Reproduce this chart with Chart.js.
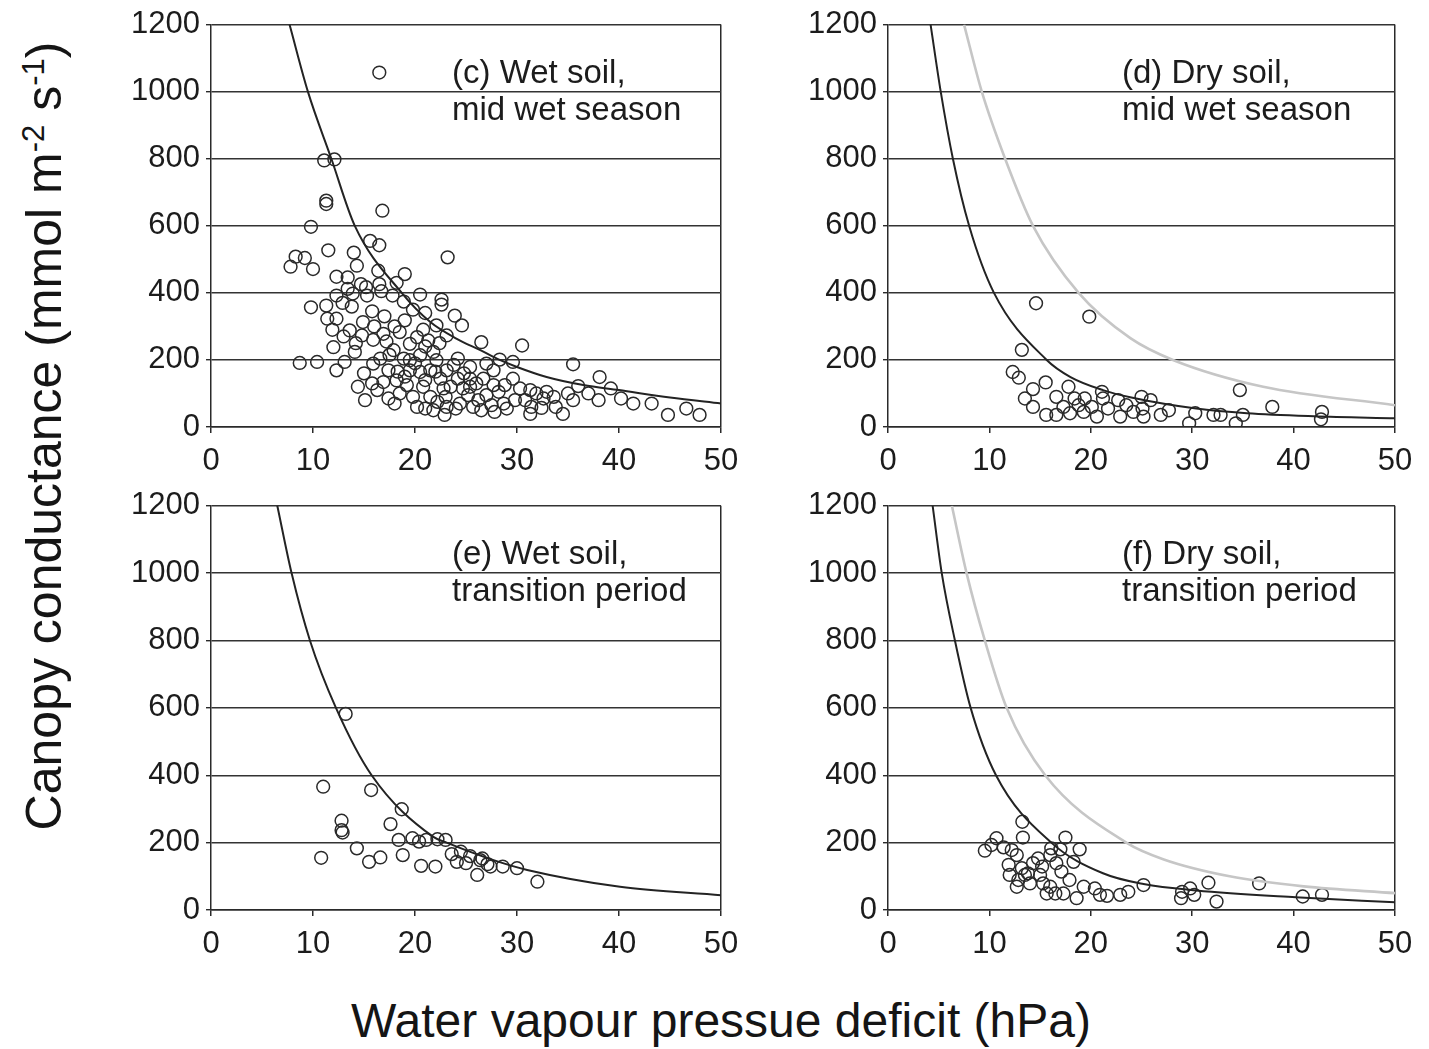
<!DOCTYPE html>
<html>
<head>
<meta charset="utf-8">
<script src="https://cdn.jsdelivr.net/npm/chart.js@4.4.1/dist/chart.umd.min.js"></script>
<style>
  html, body { margin: 0; padding: 0; background: #fff; }
  body { width: 1429px; height: 1049px; position: relative; overflow: hidden;
         font-family: "Liberation Sans", Arial, Helvetica, sans-serif; color: #151515; }
  canvas.panel { position: absolute; }
  #ytitle { position: absolute; left: 45px; top: 436px; white-space: nowrap;
            font-size: 50px; line-height: 1.15;
            transform: translate(-50%, -50%) rotate(-90deg); }
  #ytitle sup { font-size: 0.62em; vertical-align: 0.55em; line-height: 0; }
  #xtitle { position: absolute; left: 721px; top: 997px; white-space: nowrap;
            font-size: 48px; line-height: 1; transform: translateX(-50%); }
</style>
</head>
<body>
<canvas id="pc" class="panel" width="670" height="490" style="left:90px;top:0px"></canvas>
<canvas id="pd" class="panel" width="660" height="490" style="left:770px;top:0px"></canvas>
<canvas id="pe" class="panel" width="670" height="493" style="left:90px;top:480px"></canvas>
<canvas id="pf" class="panel" width="660" height="493" style="left:770px;top:480px"></canvas>
<div id="ytitle">Canopy conductance (mmol m<sup>-2</sup> s<sup>-1</sup>)</div>
<div id="xtitle">Water vapour pressue deficit (hPa)</div>

<script>
// Axis ticks shared by all four panels
const vpdTicks = [0, 10, 20, 30, 40, 50];             // hPa
const gcTicks  = [0, 200, 400, 600, 800, 1000, 1200]; // mmol m-2 s-1

// Observations: [vapour pressure deficit (hPa), canopy conductance]
const wetMidPoints = [
  [16.5,1057],[11.1,795],[12.1,798],[11.3,675],[11.3,665],[16.8,645],[9.8,597],[15.6,555],
  [16.5,542],[14.0,520],[11.5,527],[23.2,506],[8.3,508],[9.2,504],[7.8,478],[10.0,471],
  [14.3,481],[16.4,466],[19.0,456],[12.3,448],[13.4,446],[14.7,426],[15.2,417],[16.5,426],
  [16.7,405],[12.3,392],[13.4,412],[15.3,392],[17.8,392],[9.8,357],[11.3,362],[11.4,323],
  [8.7,191],[10.4,194],[18.9,374],[22.6,380],
  [13.8,359],[12.3,323],[14.9,313],[13.6,288],[14.8,273],[15.9,260],[12.0,238],[14.1,224],
  [16.9,278],[18.5,283],[19.0,318],[17.9,229],[19.5,248],[20.2,268],[21.3,258],[22.1,303],
  [22.6,365],[23.9,332],[24.6,303],[23.1,273],[21.8,224],[20.5,214],[18.9,204],[16.6,204],
  [15.9,189],[13.1,194],[12.3,169],[19.5,199],[24.2,204],[23.1,169],[26.5,253],[28.3,201],
  [29.6,194],[30.5,243],[35.5,187],[36.0,122],[35.5,80],[34.5,39],[27.0,189],[27.7,169],
  [25.4,179],[26.7,144],[28.8,125],[29.6,144],[31.3,110],[31.9,100],[32.9,105],[33.6,90],
  [32.6,85],[31.4,60],[31.3,39],[32.4,57],[29.8,80],[28.7,70],[27.5,65],[26.2,80],
  [25.7,60],[24.4,70],[23.1,60],[22.9,36],[21.8,50],[21.0,55],[21.5,90],[19.8,90],
  [18.5,100],[17.4,85],[15.1,80],[14.4,120],[15.8,130],[16.9,134],[17.4,169],[18.2,139],
  [19.2,125],[20.8,120],[22.5,144],[24.2,144],[24.7,115],[23.5,120],[23.0,90],[25.4,120],
  [21.5,169],[19.5,169],[20.5,164],[22.1,199],[25.4,144],[27.7,125],
  [38.1,149],[39.2,115],[38.0,80],[40.2,85],[41.4,70],[43.2,70],[44.8,36],[46.6,55],[47.9,36],
  [17.2,255],[18.0,300],[20.8,290],[21.0,240],[22.4,250],[17.5,215],[18.3,165],[19.0,150],
  [20.0,190],[21.0,140],[22.0,165],[23.8,185],[24.8,160],[26.0,130],[25.2,95],[27.0,95],
  [28.2,105],[30.3,115],[30.8,80],[27.8,45],[24.0,55],[22.2,75],[20.2,60],[18.0,70],
  [16.3,110],[15.0,160],[14.2,250],[13.0,270],[16.0,300],[17.0,330],[19.8,350],[21.0,340],
  [15.8,345],[18.2,430],[20.5,395],[13.9,398],[12.9,370],[11.9,290],[22.8,115],[26.5,50],
  [29.0,55],[33.8,60],[35.0,100],[37.0,100]
];
const dryMidPoints = [
  [14.6,369],[19.85,329],[13.2,230],[12.3,164],[12.9,147],[14.3,113],[15.55,133],[13.5,85],
  [14.3,60],[15.6,36],[16.6,90],[17.8,120],[17.3,60],[18.4,85],[16.6,36],[17.95,41],
  [18.8,65],[19.4,85],[20.1,60],[21.1,105],[21.2,85],[20.6,31],[21.7,55],[22.7,80],
  [22.9,31],[23.5,65],[24.2,45],[25.0,90],[25.2,31],[19.3,45],
  [25.9,80],[25.1,55],[26.9,36],[27.7,50],[29.7,11],[30.3,41],[32.1,36],[32.8,36],
  [34.3,11],[35.0,36],[34.7,110],[37.9,60],[42.8,45],[42.7,23]
];
const wetTransPoints = [
  [13.2,582],[11.0,366],[15.7,356],[18.7,299],[12.8,265],[12.8,237],[12.9,230],[17.6,255],
  [10.8,155],[14.3,183],[15.5,143],[16.6,156],[18.4,208],[18.8,163],[19.75,213],[20.4,203],
  [21.1,208],[20.6,131],[22.0,129],[22.2,210],[23.0,208],[24.1,143],[24.5,173],[25.4,160],
  [26.1,104],[26.6,153],[27.4,129],[28.6,129],[30.0,124],[32.0,84],[23.6,166],[25.0,139],
  [26.4,148],[27.1,136]
];
const dryTransPoints = [
  [13.25,262],[13.3,215],[10.7,213],[17.5,215],[9.55,176],[10.2,193],[11.4,186],[12.2,178],
  [12.7,163],[11.9,134],[12.0,104],[12.85,89],[12.7,69],[13.2,124],[13.8,109],[14.3,139],
  [14.8,153],[15.2,129],[15.0,104],[15.3,79],[16.0,163],[16.1,183],[16.6,139],[17.1,114],
  [17.0,180],[16.0,69],[15.65,49],[16.5,49],[17.3,49],[17.9,89],[18.3,143],[18.9,180],
  [18.6,35],[19.3,69],[20.4,64],[20.9,45],[21.6,42],[22.9,45],[23.7,54],[25.2,74],
  [14.0,79],[13.5,104],
  [28.9,35],[29.0,54],[29.8,64],[30.2,45],[31.6,81],[32.4,25],[36.6,79],[40.9,40],[42.8,45]
];

// Fitted response curves (black) and wet-soil reference curves (grey)
const wetMidFit = [[7.7,1200],[9.5,1000],[11.8,800],[14.1,600],[18.7,400],[21.5,313],[24.1,263],
  [26.4,229],[28.3,200],[30.0,179],[32.9,149],[36.5,125],[40.0,110],[45.0,88],[50.0,70]];
const dryMidFit = [[4.2,1200],[5.2,1000],[6.4,800],[8.0,600],[10.45,400],[15.65,200],[18.0,149],
  [21.2,110],[24.0,88],[30.4,55],[35.4,41],[42.0,32],[50.0,26]];
const dryMidRef = [[7.5,1200],[9.25,1000],[11.55,800],[14.3,600],[18.8,400],[23.9,265],
  [28.1,200],[37.0,120],[50.0,65]];
const wetTransFit = [[6.5,1200],[7.9,1000],[9.7,800],[12.25,600],[15.75,400],[21.8,217],[23.1,200],
  [27.7,148],[31.0,119],[40.1,69],[50.0,44]];
const dryTransFit = [[4.4,1200],[5.3,1000],[6.6,800],[8.15,600],[10.65,400],[16.1,200],[21.2,109],
  [25.2,77],[30.4,58],[40.2,38],[50.0,23]];
const dryTransRef = [[6.3,1200],[7.75,1000],[9.55,800],[11.7,600],[15.5,400],[23.5,200],[27.2,150],
  [33.7,100],[41.0,70],[50.0,50]];

const FONT = '"Liberation Sans", Arial, Helvetica, sans-serif';
const INK = '#1c1c1c';

const toXY = arr => arr.map(([x, y]) => ({ x, y }));

// Writes the two-line panel caption inside the plot area
const panelNote = {
  id: 'panelNote',
  afterDatasetsDraw(chart, args, opts) {
    if (!opts || !opts.lines) return;
    const { ctx, chartArea } = chart;
    ctx.save();
    ctx.font = '33px ' + FONT;
    ctx.fillStyle = INK;
    ctx.textBaseline = 'alphabetic';
    ctx.textAlign = 'left';
    opts.lines.forEach((t, i) => ctx.fillText(t, chartArea.left + opts.dx, chartArea.top + opts.dy[i]));
    ctx.restore();
  }
};

function panel(id, cfg) {
  const datasets = [];
  if (cfg.ref) datasets.push({
    type: 'line', data: toXY(cfg.ref), borderColor: '#c6c6c6', borderWidth: 2.6,
    pointRadius: 0, fill: false, cubicInterpolationMode: 'monotone'
  });
  datasets.push({
    type: 'line', data: toXY(cfg.fit), borderColor: '#232323', borderWidth: 2,
    pointRadius: 0, fill: false, cubicInterpolationMode: 'monotone'
  });
  datasets.push({
    type: 'scatter', data: toXY(cfg.points), pointRadius: 6.4, pointBorderWidth: 1.5,
    pointBorderColor: '#2a2a2a', pointBackgroundColor: 'rgba(255,255,255,0)', showLine: false
  });

  return new Chart(document.getElementById(id), {
    type: 'scatter',
    data: { datasets },
    plugins: [panelNote],
    options: {
      responsive: false,
      animation: false,
      devicePixelRatio: 1,
      events: [],
      layout: { padding: { top: cfg.padTop, right: cfg.padRight, left: 0, bottom: 0 } },
      plugins: {
        legend: { display: false },
        tooltip: { enabled: false },
        panelNote: { lines: cfg.note, dx: cfg.noteDx, dy: [58, 95] }
      },
      scales: {
        x: {
          type: 'linear', min: 0, max: 50,
          afterBuildTicks: s => { s.ticks = vpdTicks.map(v => ({ value: v })); },
          afterFit: s => { s.height = cfg.xHeight; },
          ticks: { font: { family: FONT, size: 31 }, color: INK, padding: 10, maxRotation: 0,
                   callback: v => String(v) },
          grid: {
            drawOnChartArea: true, drawTicks: true, tickLength: 6, lineWidth: 1.5,
            color: c => (c.tick && c.tick.value === 50) ? '#2a2a2a' : 'rgba(0,0,0,0)',
            tickColor: '#2a2a2a'
          },
          border: { display: true, color: '#2a2a2a', width: 1.5 }
        },
        y: {
          type: 'linear', min: 0, max: 1200,
          afterBuildTicks: s => { s.ticks = gcTicks.map(v => ({ value: v })); },
          afterFit: s => { s.width = cfg.yWidth; },
          ticks: { font: { family: FONT, size: 31 }, color: INK, padding: 6,
                   callback: v => String(v) },
          grid: { drawTicks: true, tickLength: 5, lineWidth: 1.4, color: '#333', tickColor: '#2a2a2a' },
          border: { display: true, color: '#2a2a2a', width: 1.5 }
        }
      }
    }
  });
}

panel('pc', { points: wetMidPoints, fit: wetMidFit, note: ['(c) Wet soil,', 'mid wet season'],
  noteDx: 241, yWidth: 121, padTop: 22.7, padRight: 39, xHeight: 63 });
panel('pd', { points: dryMidPoints, fit: dryMidFit, ref: dryMidRef, note: ['(d) Dry soil,', 'mid wet season'],
  noteDx: 234, yWidth: 118, padTop: 22.7, padRight: 35, xHeight: 63 });
panel('pe', { points: wetTransPoints, fit: wetTransFit, note: ['(e) Wet soil,', 'transition period'],
  noteDx: 241, yWidth: 121, padTop: 25.7, padRight: 39, xHeight: 63 });
panel('pf', { points: dryTransPoints, fit: dryTransFit, ref: dryTransRef, note: ['(f) Dry soil,', 'transition period'],
  noteDx: 234, yWidth: 118, padTop: 25.7, padRight: 35, xHeight: 63 });
</script>
</body>
</html>
